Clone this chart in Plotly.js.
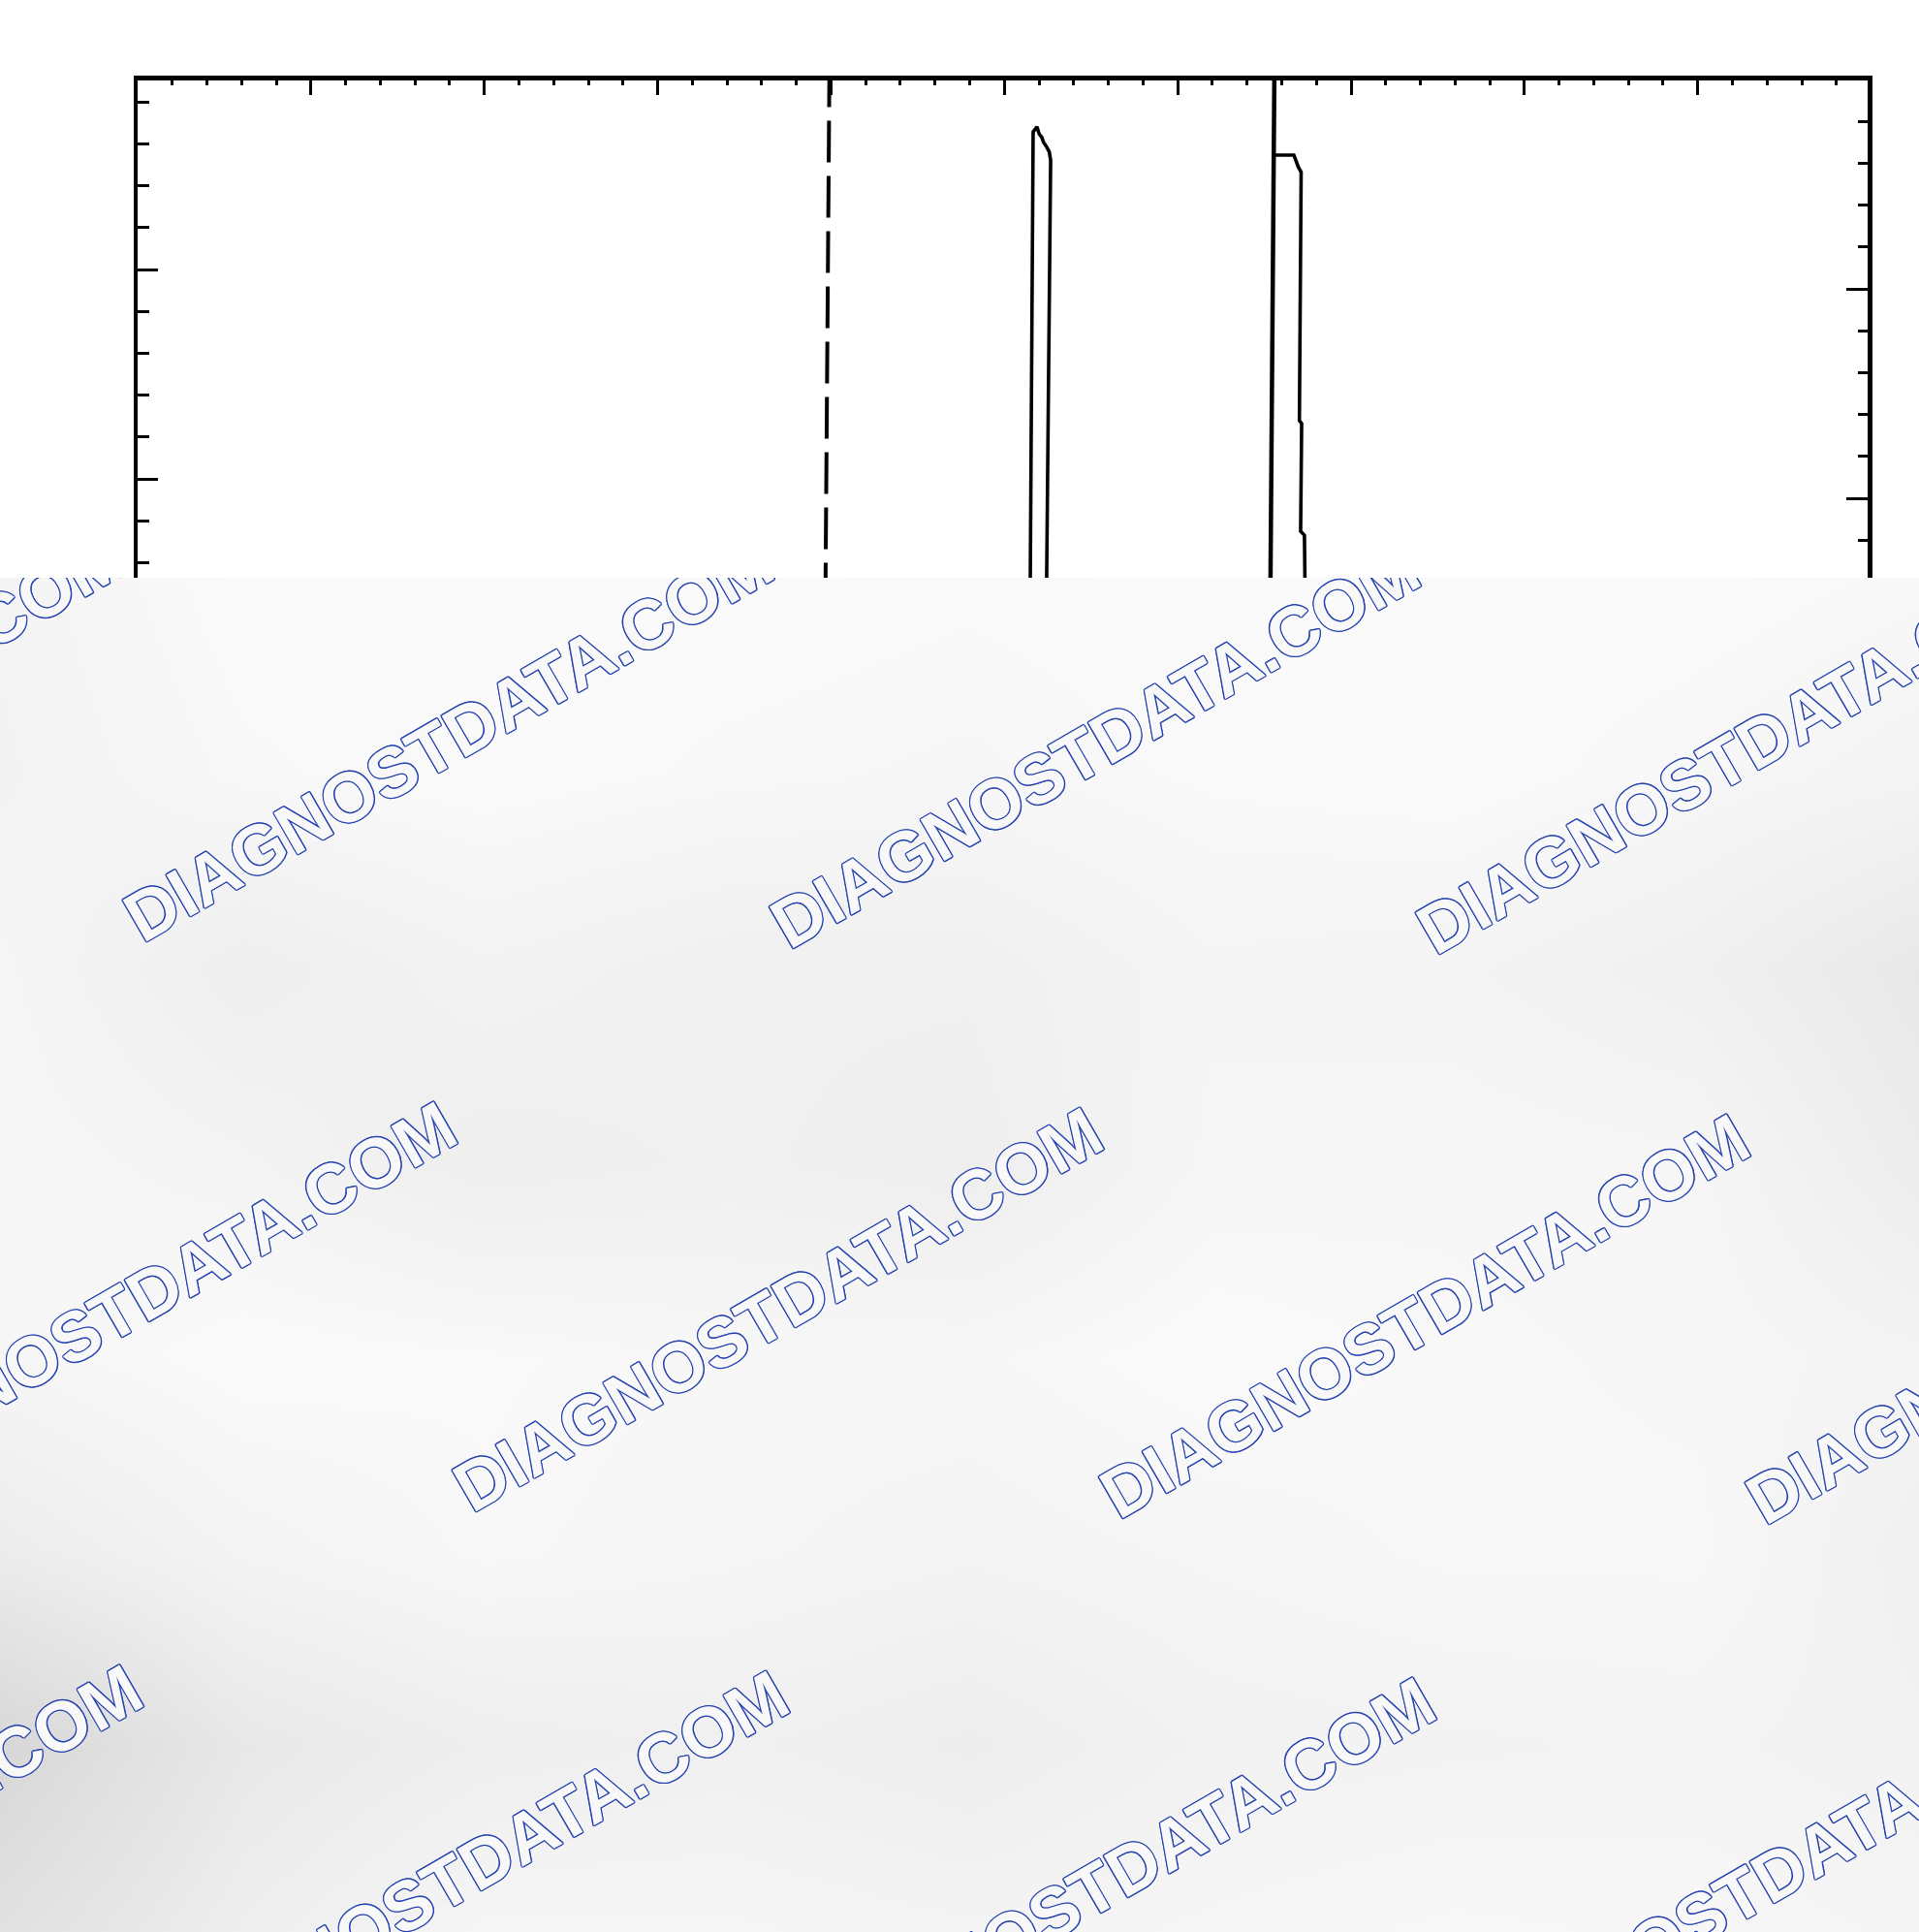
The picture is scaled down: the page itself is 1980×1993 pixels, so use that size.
<!DOCTYPE html>
<html>
<head>
<meta charset="utf-8">
<script src="https://cdn.plot.ly/plotly-3.0.1.min.js"></script>
<style>
html,body{margin:0;padding:0;background:#fff;}
#wrap{position:relative;width:1980px;height:1993px;overflow:hidden;}
#chart{position:absolute;left:0;top:0;width:1980px;height:1993px;}
#overlay{position:absolute;left:0;top:596px;width:1980px;height:1397px;overflow:hidden;}
</style>
</head>
<body>
<div id="wrap"><div id="chart"></div><div id="overlay"></div></div>
<script>
// ---- Trace data (oscilloscope divisions: x horizontal div, y vertical div) ----
const pulse1X = [5.110, 5.146, 5.166, 5.188, 5.201, 5.216, 5.226, 5.244, 5.259, 5.267, 5.244, 5.211];
const pulse1Y = [0.417, 5.528, 7.657, 7.682, 7.647, 7.631, 7.608, 7.585, 7.562, 7.523, 5.528, 0.417];
const pulse2X = [6.554, 6.670, 6.681, 6.695, 6.712, 6.706, 6.702, 6.715, 6.709, 6.731, 6.734, 6.737];
const pulse2Y = [7.546, 7.546, 7.523, 7.491, 7.465, 6.898, 6.278, 6.264, 5.750, 5.731, 5.509, 0.417];
const dashedCursorX = [3.991, 3.918];
const solidCursorX = [6.558, 6.484];
const cursorY = [7.9745, 0];

// ---- Watermark overlay background shading (grey level) ----
const shadeX = [0, 250, 500, 750, 1000, 1250, 1500, 1750, 1980];
const shadeY = [600, 800, 1000, 1200, 1400, 1600, 1800, 1993];
const shadeZ = [
  [244, 250, 250, 250, 249, 250, 250, 250, 248],
  [243, 248, 250, 248, 247, 249, 250, 247, 244],
  [246, 238, 243, 240, 240, 245, 244, 240, 232],
  [247, 244, 238, 240, 238, 246, 247, 246, 236],
  [246, 250, 249, 247, 247, 250, 248, 247, 244],
  [236, 244, 248, 246, 244, 246, 248, 248, 240],
  [215, 232, 238, 240, 237, 242, 243, 244, 242],
  [225, 238, 246, 246, 244, 246, 248, 247, 245]
];

// ---- Watermark text and centres (page pixels) ----
const wmText = 'DIAGNOSTDATA.COM';
const wmX = [-205, 462, 1129, 1796, 135, 802, 1469, 2136, -189, 478, 1145, 1812];
const wmY = [756.5, 763, 769.5, 776, 1344.5, 1351, 1357.5, 1364, 1925.5, 1932, 1938.5, 1945];

// ================= main chart =================
const traces = [
  {x: dashedCursorX, y: cursorY, type: 'scatter', mode: 'lines',
   line: {color: '#000', width: 4, dash: '43px,14px'}, hoverinfo: 'skip'},
  {x: solidCursorX, y: cursorY, type: 'scatter', mode: 'lines',
   line: {color: '#000', width: 4.5}, hoverinfo: 'skip'},
  {x: pulse1X, y: pulse1Y, type: 'scatter', mode: 'lines',
   line: {color: '#000', width: 3.6}, hoverinfo: 'skip'},
  {x: pulse2X, y: pulse2Y, type: 'scatter', mode: 'lines',
   line: {color: '#000', width: 3.6}, hoverinfo: 'skip'},
  {x: [], y: [], yaxis: 'y2', type: 'scatter', mode: 'lines', hoverinfo: 'skip'}
];

const axCommon = {
  showline: true, linecolor: '#000', showgrid: false, zeroline: false,
  showticklabels: false, ticks: 'inside', tickcolor: '#000', tickwidth: 3,
  fixedrange: true
};

const layout = {
  width: 1980, height: 1993,
  margin: {l: 142, r: 53, t: 83, b: 203, pad: 0},
  paper_bgcolor: '#ffffff', plot_bgcolor: '#ffffff',
  showlegend: false,
  xaxis: Object.assign({}, axCommon, {
    side: 'top', range: [0, 9.98], linewidth: 5,
    dtick: 1, tick0: 0, ticklen: 15,
    minor: {dtick: 0.2, ticks: 'inside', ticklen: 5, tickwidth: 3, tickcolor: '#000', showgrid: false}
  }),
  yaxis: Object.assign({}, axCommon, {
    range: [0, 7.9028], linewidth: 4.5,
    dtick: 1, tick0: 0, ticklen: 21,
    minor: {dtick: 0.2, ticks: 'inside', ticklen: 12, tickwidth: 3, tickcolor: '#000', showgrid: false}
  }),
  yaxis2: Object.assign({}, axCommon, {
    overlaying: 'y', side: 'right', anchor: 'x',
    range: [0.0926, 7.9954], linewidth: 4.5,
    dtick: 1, tick0: 0, ticklen: 22,
    minor: {dtick: 0.2, ticks: 'inside', ticklen: 10, tickwidth: 3, tickcolor: '#000', showgrid: false}
  })
};

Plotly.newPlot('chart', traces, layout, {staticPlot: true, displayModeBar: false});

// ================= watermark overlay =================
const OV_H = 1397, PAGE_H = 1993, PAGE_W = 1980;
const blue = '#2643b0';
const o = '1.3px';
const outline = [
  `${o} 0 0 ${blue}`, `-${o} 0 0 ${blue}`, `0 ${o} 0 ${blue}`, `0 -${o} 0 ${blue}`,
  `1px 1px 0 ${blue}`, `-1px -1px 0 ${blue}`, `1px -1px 0 ${blue}`, `-1px 1px 0 ${blue}`
].join(', ');

const annotations = wmX.map((px, i) => ({
  text: wmText,
  xref: 'paper', yref: 'paper',
  x: px / PAGE_W,
  y: (PAGE_H - wmY[i]) / OV_H,
  xanchor: 'center', yanchor: 'middle',
  showarrow: false,
  textangle: -30,
  font: {family: 'Liberation Sans, Arial, sans-serif', size: 72, weight: 700,
         color: '#f8f8f8', shadow: outline}
}));

const ovTraces = [{
  type: 'heatmap', x: shadeX, y: shadeY, z: shadeZ,
  zmin: 200, zmax: 255, zsmooth: 'best', showscale: false, hoverinfo: 'skip',
  colorscale: [[0, 'rgb(200,200,200)'], [1, 'rgb(255,255,255)']]
}];

const ovLayout = {
  width: 1980, height: OV_H,
  margin: {l: 0, r: 0, t: 0, b: 0, pad: 0},
  paper_bgcolor: '#f7f7f7', plot_bgcolor: 'rgba(0,0,0,0)',
  showlegend: false,
  xaxis: {range: [0, 1980], visible: false, fixedrange: true},
  yaxis: {range: [1993, 596], visible: false, fixedrange: true},
  annotations: annotations
};

Plotly.newPlot('overlay', ovTraces, ovLayout, {staticPlot: true, displayModeBar: false});
</script>
</body>
</html>
